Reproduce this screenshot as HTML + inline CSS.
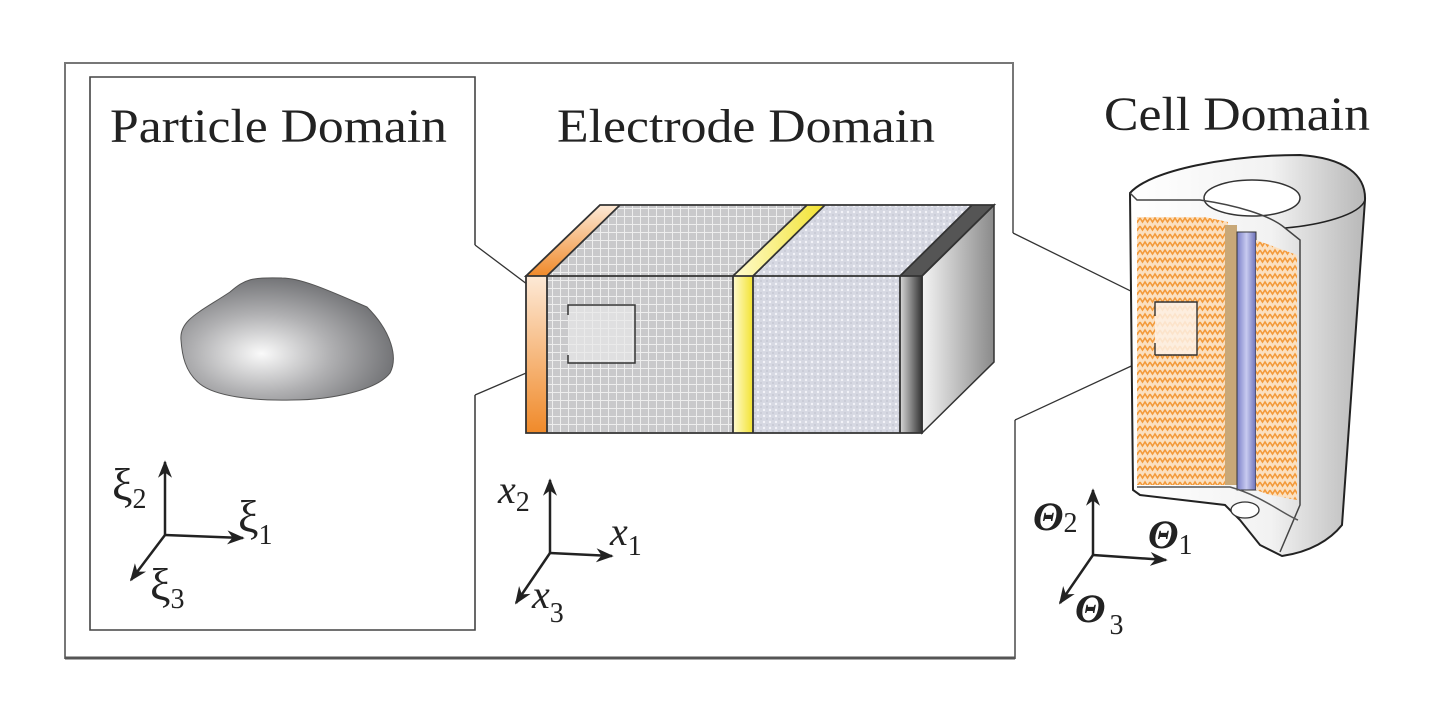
<!DOCTYPE html>
<html><head><meta charset="utf-8"><style>
html,body{margin:0;padding:0;background:#fff;}
svg{display:block;}
text{font-family:"Liberation Serif",serif;fill:#222;}
</style></head><body>
<svg width="1454" height="702" viewBox="0 0 1454 702" xmlns="http://www.w3.org/2000/svg">
<defs>
<radialGradient id="pg" cx="0.38" cy="0.62" r="0.65">
<stop offset="0" stop-color="#fafafa"/><stop offset="0.5" stop-color="#b0b0b2"/><stop offset="1" stop-color="#6e6f72"/>
</radialGradient>
<pattern id="mesh" width="8" height="8" patternUnits="userSpaceOnUse">
<rect width="8" height="8" fill="#c9c9cb"/><path d="M0 0.5H8M0.5 0V8" stroke="#eeeeee" stroke-width="1"/>
</pattern>
<pattern id="dots" width="6" height="6" patternUnits="userSpaceOnUse">
<rect width="6" height="6" fill="#d6d8e2"/><circle cx="2" cy="2" r="1.2" fill="#f3f3f8"/><circle cx="5" cy="5" r="0.9" fill="#c2c4cf"/>
</pattern>
<pattern id="zig" width="10" height="8" patternUnits="userSpaceOnUse">
<rect width="10" height="8" fill="#fbe0c0"/><path d="M0 2L2.5 6L5 2L7.5 6L10 2" stroke="#f39a3a" stroke-width="1.6" fill="none"/>
</pattern>
<linearGradient id="org" x1="0" y1="0" x2="0" y2="1"><stop offset="0" stop-color="#fde9d6"/><stop offset="1" stop-color="#f08a2a"/></linearGradient>
<linearGradient id="yel" x1="0" y1="0" x2="1" y2="0"><stop offset="0" stop-color="#fffbd0"/><stop offset="1" stop-color="#f2e230"/></linearGradient>
<linearGradient id="drk" x1="0" y1="0" x2="1" y2="0"><stop offset="0" stop-color="#d8d8d8"/><stop offset="1" stop-color="#333"/></linearGradient>
<linearGradient id="side" x1="0" y1="0" x2="1" y2="0"><stop offset="0" stop-color="#f4f4f4"/><stop offset="1" stop-color="#8a8a8a"/></linearGradient>
<linearGradient id="cyl" x1="0" y1="0" x2="1" y2="0"><stop offset="0" stop-color="#ffffff"/><stop offset="0.6" stop-color="#f2f2f2"/><stop offset="1" stop-color="#b8b8b8"/></linearGradient>
<linearGradient id="rod" x1="0" y1="0" x2="1" y2="0"><stop offset="0" stop-color="#7a7fc8"/><stop offset="0.5" stop-color="#c8cbf0"/><stop offset="1" stop-color="#6a6fb8"/></linearGradient>
<marker id="ar" viewBox="0 0 10 10" refX="9" refY="5" markerWidth="7" markerHeight="7" orient="auto-start-reverse"><path d="M0 1L10 5L0 9L3 5Z" fill="#222"/></marker>
</defs>

<path d="M1013 233 V63 H65 V658 H1015 V420" fill="none" stroke="#777" stroke-width="2"/>
<line x1="65" y1="658" x2="1015" y2="658" stroke="#555" stroke-width="3"/>
<path d="M1013 233 L1155 303 M1155 355 L1015 420" stroke="#333" stroke-width="1.3"/>

<path d="M475 245 V77 H90 V630 H475 V395" fill="none" stroke="#444" stroke-width="1.6"/>
<path d="M475 245 L568 315 M475 395 L568 355" stroke="#333" stroke-width="1.3"/>

<text x="110" y="142" font-size="48" textLength="337" lengthAdjust="spacingAndGlyphs">Particle Domain</text>
<text x="557" y="142" font-size="48" textLength="378" lengthAdjust="spacingAndGlyphs">Electrode Domain</text>
<text x="1104" y="130" font-size="48" textLength="266" lengthAdjust="spacingAndGlyphs">Cell Domain</text>

<path d="M181 340 C179 320 200 312 230 292 C245 279 252 277 282 278 C302 278 332 292 367 307 C392 332 398 358 390 373 C377 390 332 400 292 400 C252 401 215 396 200 384 C185 372 182 355 181 340 Z" fill="url(#pg)" stroke="#555" stroke-width="1"/>

<polygon points="526,276 600,205 994,205 922,276" fill="url(#mesh)"/>
<polygon points="809,205 994,205 922,276 753,276 " fill="url(#dots)"/>
<polygon points="526,276 600,205 620,205 547,276" fill="url(#org)"/>
<polygon points="733,276 807,205 825,205 753,276" fill="url(#yel)"/>
<polygon points="900,276 972,205 994,205 922,276" fill="#555"/>
<polygon points="922,276 994,205 994,362 922,433" fill="url(#side)" stroke="#333" stroke-width="1.5"/>
<rect x="526" y="276" width="396" height="157" fill="url(#mesh)"/>
<rect x="753" y="276" width="147" height="157" fill="url(#dots)"/>
<rect x="526" y="276" width="21" height="157" fill="url(#org)"/>
<rect x="733" y="276" width="20" height="157" fill="url(#yel)"/>
<rect x="900" y="276" width="22" height="157" fill="url(#drk)"/>
<path d="M526 276 L600 205 H994 L922 276 Z M526 276 H922 V433 H526 Z M547 276 V433 M733 276 V433 M753 276 V433 M900 276 V433 M547 276 L620 205 M733 276 L807 205 M753 276 L825 205 M900 276 L972 205" fill="none" stroke="#333" stroke-width="1.8"/>
<path d="M568 315 V305 H635 V363 H568 V355" fill="#e8e8e8" fill-opacity="0.7" stroke="#333" stroke-width="1.5"/>

<path d="M1130 193 C1150 170 1230 155 1300 155 C1345 158 1366 175 1365 200 L1342 525 C1330 540 1310 552 1282 556 L1260 545 L1240 520 L1225 505 L1140 495 L1133 490 Z" fill="url(#cyl)" stroke="#222" stroke-width="2"/>
<path d="M1365 200 C1360 215 1320 225 1285 228" fill="none" stroke="#222" stroke-width="1.5"/>
<ellipse cx="1252" cy="198" rx="48" ry="18" fill="#fff" stroke="#333" stroke-width="1.5"/>
<path d="M1130 193 L1137 200 H1200 C1235 205 1270 215 1285 228 L1300 240 V505 L1280 552" fill="none" stroke="#444" stroke-width="1.5"/>
<path d="M1137 217 H1205 L1228 222 V485 H1137 Z" fill="url(#zig)"/>
<rect x="1225" y="225" width="12" height="260" fill="#c8a878"/>
<rect x="1237" y="232" width="19" height="258" fill="url(#rod)" stroke="#333" stroke-width="1"/>
<path d="M1256 240 L1297 255 V500 L1270 495 L1256 490 Z" fill="url(#zig)"/>
<path d="M1137 487 H1230 C1260 495 1285 515 1298 520" fill="none" stroke="#555" stroke-width="1.5"/>
<ellipse cx="1245" cy="510" rx="14" ry="8" fill="#fff" stroke="#333" stroke-width="1.3"/>
<path d="M1155 303 V302 H1197 V355 H1155" fill="#fdf0e4" fill-opacity="0.85" stroke="#333" stroke-width="1.4"/>
<path d="M1155 303 V316 M1155 343 V355" stroke="#333" stroke-width="1.4"/>

<g stroke="#222" stroke-width="2.5" fill="none" marker-end="url(#ar)">
<path d="M165 535 V462"/><path d="M165 535 L243 538"/><path d="M165 535 L131 580"/>
<path d="M550 553 V480"/><path d="M550 553 L612 556"/><path d="M550 553 L516 603"/>
<path d="M1093 555 V490"/><path d="M1093 555 L1166 560"/><path d="M1093 555 L1060 603"/>
</g>
<text x="112" y="500" font-size="46">ξ<tspan font-size="28" dy="8">2</tspan></text>
<text x="238" y="532" font-size="46">ξ<tspan font-size="28" dy="12">1</tspan></text>
<text x="150" y="600" font-size="46">ξ<tspan font-size="28" dy="8">3</tspan></text>
<text x="498" y="503" font-size="40" font-style="italic">x<tspan font-size="28" font-style="normal" dy="8">2</tspan></text>
<text x="610" y="545" font-size="40" font-style="italic">x<tspan font-size="28" font-style="normal" dy="10">1</tspan></text>
<text x="532" y="608" font-size="40" font-style="italic">x<tspan font-size="28" font-style="normal" dy="14">3</tspan></text>
<text x="1033" y="530" font-size="40" font-style="italic" font-weight="bold">Θ<tspan font-size="28" font-style="normal" font-weight="normal" dy="2">2</tspan></text>
<text x="1148" y="548" font-size="40" font-style="italic" font-weight="bold">Θ<tspan font-size="28" font-style="normal" font-weight="normal" dy="6">1</tspan></text>
<text x="1075" y="622" font-size="40" font-style="italic" font-weight="bold">Θ<tspan font-size="28" font-style="normal" font-weight="normal" dx="4" dy="12">3</tspan></text>
</svg>
</body></html>
